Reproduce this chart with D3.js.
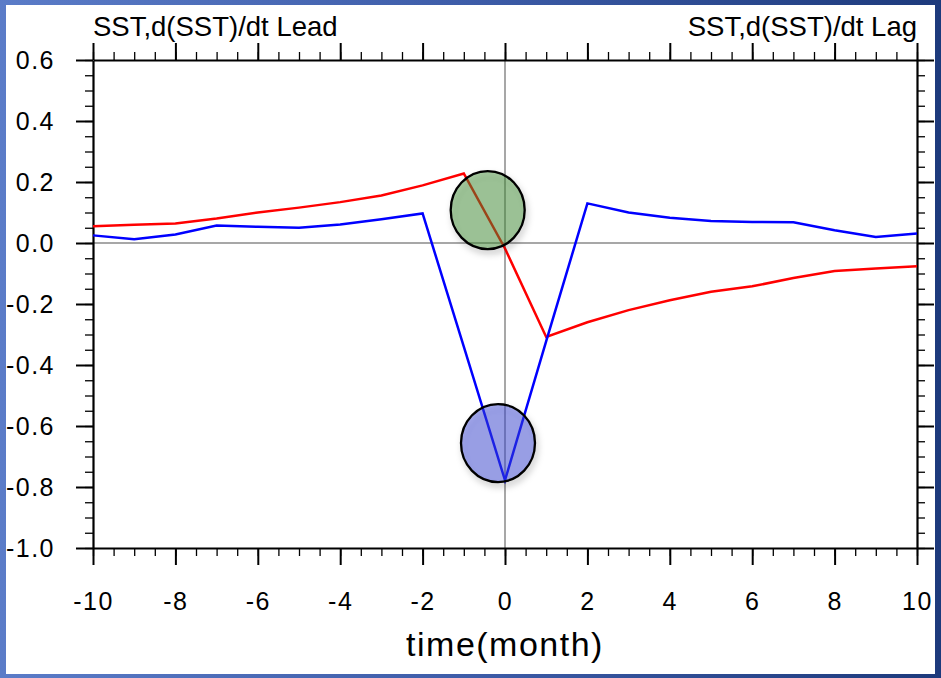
<!DOCTYPE html>
<html>
<head>
<meta charset="utf-8">
<script src="https://cdn.jsdelivr.net/npm/d3@7"></script>
<style>
  body { margin: 0; background: #ffffff; }
  text { font-family: "Liberation Sans", Arial, Helvetica, sans-serif; }
</style>
</head>
<body>
<div id="chart"></div>
<script>
// lag in months (negative = lead)
var months = [-10, -9, -8, -7, -6, -5, -4, -3, -2, -1, 0, 1, 2, 3, 4, 5, 6, 7, 8, 9, 10];

var redSeries = [0.055, 0.060, 0.064, 0.080, 0.100, 0.116, 0.134, 0.156, 0.189, 0.228,
                 -0.018, -0.308, -0.260, -0.220, -0.188, -0.160, -0.142, -0.115, -0.092, -0.084, -0.076];

var blueSeries = [0.025, 0.012, 0.028, 0.057, 0.053, 0.050, 0.061, 0.078, 0.097, -0.340,
                  -0.778, -0.322, 0.130, 0.100, 0.083, 0.072, 0.069, 0.068, 0.042, 0.020, 0.031];

var xTicks = [-10, -8, -6, -4, -2, 0, 2, 4, 6, 8, 10];
var xTickLabels = ["-10", "-8", "-6", "-4", "-2", "0", "2", "4", "6", "8", "10"];
var yTicks = [0.6, 0.4, 0.2, 0.0, -0.2, -0.4, -0.6, -0.8, -1.0];
var yTickLabels = ["0.6", "0.4", "0.2", "0.0", "-0.2", "-0.4", "-0.6", "-0.8", "-1.0"];

// highlight circles, centres in data units
var highlightMonths = [-0.42, -0.17];
var highlightValues = [0.108, -0.656];
var highlightFills = ["rgba(64,142,51,0.45)", "rgba(57,68,215,0.45)"];

var svgWidth = 941;
var svgHeight = 678;
var margin = { top: 60, right: 24, bottom: 130, left: 93 };
var width = 917 - margin.left;
var height = 548 - margin.top;

var svg = d3.select("#chart")
    .append("svg")
    .attr("width", svgWidth)
    .attr("height", svgHeight);

var defs = svg.append("defs");
var grad = defs.append("linearGradient")
    .attr("id", "frame")
    .attr("x1", "0%").attr("y1", "0%")
    .attr("x2", "100%").attr("y2", "0%");
grad.append("stop").attr("offset", "0%").attr("stop-color", "#5b7cc8");
grad.append("stop").attr("offset", "50%").attr("stop-color", "#3d5ca8");
grad.append("stop").attr("offset", "100%").attr("stop-color", "#1d3a7c");

var shadow = defs.append("filter")
    .attr("id", "shadow")
    .attr("x", "-30%").attr("y", "-30%")
    .attr("width", "160%").attr("height", "160%");
shadow.append("feDropShadow")
    .attr("dx", 2).attr("dy", 4)
    .attr("stdDeviation", 3)
    .attr("flood-color", "#000")
    .attr("flood-opacity", 0.25);

svg.append("rect")
    .attr("width", svgWidth)
    .attr("height", svgHeight)
    .attr("fill", "url(#frame)");

svg.append("rect")
    .attr("x", 6).attr("y", 5)
    .attr("width", 929).attr("height", 669)
    .attr("fill", "#ffffff");

var chartGroup = svg.append("g")
    .attr("transform", `translate(${margin.left}, ${margin.top})`);

var xScale = d3.scaleLinear().domain([-10, 10]).range([0, width]);
var yScale = d3.scaleLinear().domain([-1.0, 0.6]).range([height, 0]);

// zero reference lines
chartGroup.append("line")
    .attr("x1", 0).attr("x2", width)
    .attr("y1", yScale(0)).attr("y2", yScale(0))
    .attr("stroke", "#8a8a8a")
    .attr("stroke-width", 1.5);

chartGroup.append("line")
    .attr("x1", xScale(0)).attr("x2", xScale(0))
    .attr("y1", 0).attr("y2", height)
    .attr("stroke", "#8a8a8a")
    .attr("stroke-width", 1.5);

// minor ticks
var xMinor = xScale.ticks(40);
var yMinor = yScale.ticks(32);

function minorAxis(axis, vals) {
    return axis.tickValues(vals).tickSize(8).tickSizeOuter(0).tickFormat("");
}

chartGroup.append("g").attr("class", "minor")
    .attr("transform", `translate(0, ${height})`)
    .call(minorAxis(d3.axisBottom(xScale), xMinor));
chartGroup.append("g").attr("class", "minor")
    .call(minorAxis(d3.axisTop(xScale), xMinor));
chartGroup.append("g").attr("class", "minor")
    .call(minorAxis(d3.axisLeft(yScale), yMinor));
chartGroup.append("g").attr("class", "minor")
    .attr("transform", `translate(${width}, 0)`)
    .call(minorAxis(d3.axisRight(yScale), yMinor));

// major ticks + labels
var xAxis = d3.axisBottom(xScale)
    .tickValues(xTicks)
    .tickFormat((d, i) => xTickLabels[i])
    .tickSize(17).tickSizeOuter(0).tickPadding(27);

var yAxis = d3.axisLeft(yScale)
    .tickValues(yTicks)
    .tickFormat((d, i) => yTickLabels[i])
    .tickSize(17).tickSizeOuter(0).tickPadding(21);

chartGroup.append("g").attr("class", "major labelled")
    .attr("transform", `translate(0, ${height})`)
    .call(xAxis);
chartGroup.append("g").attr("class", "major labelled")
    .call(yAxis);
chartGroup.append("g").attr("class", "major")
    .call(d3.axisTop(xScale).tickValues(xTicks).tickSize(17).tickSizeOuter(0).tickFormat(""));
chartGroup.append("g").attr("class", "major")
    .attr("transform", `translate(${width}, 0)`)
    .call(d3.axisRight(yScale).tickValues(yTicks).tickSize(17).tickSizeOuter(0).tickFormat(""));

chartGroup.selectAll(".minor line").attr("stroke", "#000").attr("stroke-width", 1.3);
chartGroup.selectAll(".minor path").remove();
chartGroup.selectAll(".major line").attr("stroke", "#000").attr("stroke-width", 2);
chartGroup.selectAll(".major path").attr("stroke", "#000").attr("stroke-width", 2.2);
chartGroup.selectAll(".labelled text")
    .attr("font-size", "25px")
    .attr("letter-spacing", "1.5px")
    .attr("fill", "#000");

// data lines
var line = d3.line()
    .x(d => xScale(d[0]))
    .y(d => yScale(d[1]));

chartGroup.append("path")
    .datum(d3.zip(months, redSeries))
    .attr("d", line)
    .attr("fill", "none")
    .attr("stroke", "#ff0000")
    .attr("stroke-width", 2.5);

chartGroup.append("path")
    .datum(d3.zip(months, blueSeries))
    .attr("d", line)
    .attr("fill", "none")
    .attr("stroke", "#0000ff")
    .attr("stroke-width", 2.5);

// highlight circles
chartGroup.selectAll(".highlight")
    .data(d3.zip(highlightMonths, highlightValues, highlightFills))
    .enter()
    .append("ellipse")
    .attr("class", "highlight")
    .attr("cx", d => xScale(d[0]))
    .attr("cy", d => yScale(d[1]))
    .attr("rx", 37)
    .attr("ry", 39)
    .attr("fill", d => d[2])
    .attr("stroke", "#000")
    .attr("stroke-width", 2.3)
    .attr("filter", "url(#shadow)");

// titles
svg.append("text")
    .attr("x", margin.left)
    .attr("y", 35.5)
    .attr("font-size", "27.5px")
    .text("SST,d(SST)/dt Lead");

svg.append("text")
    .attr("x", margin.left + width)
    .attr("y", 35.5)
    .attr("text-anchor", "end")
    .attr("font-size", "27.5px")
    .text("SST,d(SST)/dt Lag");

svg.append("text")
    .attr("x", margin.left + xScale(0))
    .attr("y", 656)
    .attr("text-anchor", "middle")
    .attr("font-size", "34px")
    .attr("letter-spacing", "1.5px")
    .text("time(month)");
</script>
</body>
</html>
